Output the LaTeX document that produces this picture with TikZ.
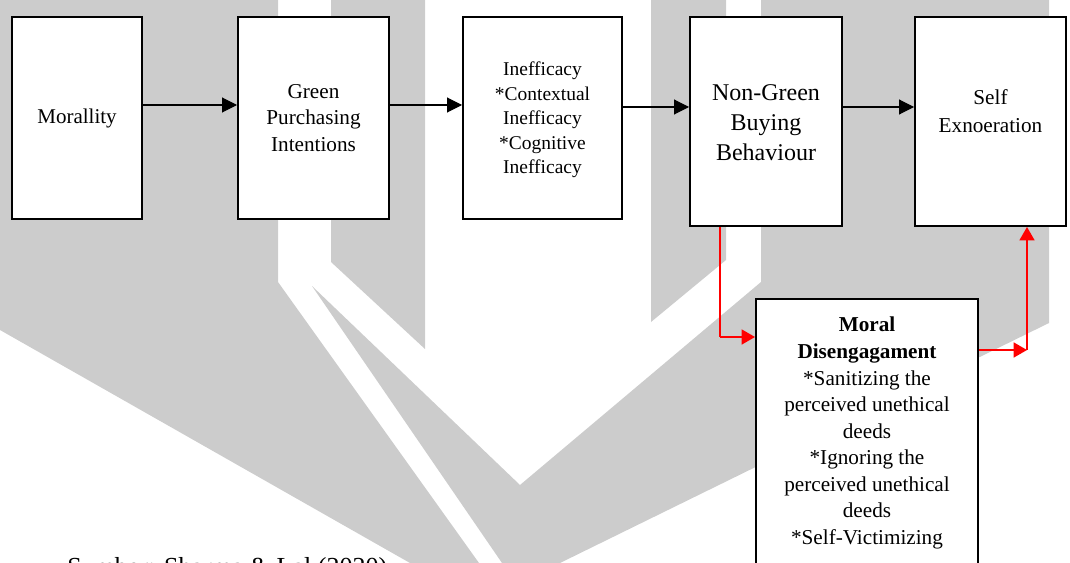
\documentclass[tikz,border=0pt]{standalone}
\usepackage{fontspec}
\setmainfont{Liberation Serif}
\usetikzlibrary{arrows.meta,calc}
\definecolor{wm}{HTML}{CCCCCC}
\definecolor{redline}{HTML}{FF0000}
\begin{document}
\begin{tikzpicture}[x=0.75pt,y=-0.75pt,
  box/.style={draw=black,line width=1.5pt,fill=white,inner sep=0pt},
  txt/.style={align=center,inner sep=0pt},
  blackarr/.style={draw=black,line width=0.8pt,-{Triangle[length=11.25pt,width=11.25pt]}},
  redarr/.style={draw=redline,line width=1.1pt,-{Triangle[length=10pt,width=11.25pt]}},
  redline/.style={draw=redline,line width=1.1pt}]
\useasboundingbox (0,0) rectangle (1070,563);
\clip (0,0) rectangle (1070,563);
% watermark
\fill[wm] (0,0) -- (278,0) -- (278,282) -- (479,563) -- (410,563) -- (0,330) -- cycle;
\fill[wm] (331,0) -- (425,0) -- (425,349) -- (331,262) -- cycle;
\fill[wm] (312,286) -- (520,485) -- (761,282) -- (761,0) -- (1049,0) -- (1049,323) -- (560,563) -- (502,563) -- cycle;
\fill[wm] (651,0) -- (726,0) -- (726,260) -- (651,322) -- cycle;
% boxes
\node[box,minimum width=97.5pt,minimum height=151.5pt] (b1) at (77,118) {};
\node[box,minimum width=113.25pt,minimum height=151.5pt] (b2) at (313.5,118) {};
\node[box,minimum width=119.25pt,minimum height=151.5pt] (b3) at (542.5,118) {};
\node[box,minimum width=114pt,minimum height=156.75pt] (b4) at (766,121.5) {};
\node[box,minimum width=113.25pt,minimum height=156.75pt] (b5) at (990.5,121.5) {};
\node[box,minimum width=166.5pt,minimum height=240pt] (b6) at (867,459) {};
% texts
\node[txt,font=\fontsize{15.75pt}{19.5pt}\selectfont] (t1) at (b1.center) {Morallity};
\node[txt,font=\fontsize{15.9pt}{19.8pt}\selectfont] (t2) at (b2.center) {Green\\Purchasing\\Intentions};
\node[txt,font=\fontsize{14.6pt}{18.4pt}\selectfont] (t3) at ($(b3.center)+(0,2)$) {Inefficacy\\{*}Contextual\\Inefficacy\\{*}Cognitive\\Inefficacy};
\node[txt,font=\fontsize{18pt}{22.5pt}\selectfont] (t4) at ($(b4.center)+(0,1)$) {Non-Green\\Buying\\Behaviour};
\node[txt,font=\fontsize{15.9pt}{21pt}\selectfont] (t5) at ($(b5.north)+(0,95)$) {Self\\Exnoeration};
\node[txt,font=\fontsize{15.9pt}{19.9pt}\selectfont] (t6) at ($(b6.north)+(0,135)$) {\textbf{Moral}\\\textbf{Disengagament}\\{*}Sanitizing the\\perceived unethical\\deeds\\{*}Ignoring the\\perceived unethical\\deeds\\{*}Self-Victimizing};
\node[anchor=base west,inner sep=0pt,font=\fontsize{19.5pt}{24pt}\selectfont] (src) at (67,575) {Sumber: Sharma \& Lal (2020)};
% black connectors
\draw[blackarr] ([yshift=9.75pt]b1.east) -- ([yshift=9.75pt]b2.west);
\draw[blackarr] ([yshift=9.75pt]b2.east) -- ([yshift=9.75pt]b3.west);
\draw[blackarr] ([yshift=8.25pt]b3.east) -- ([yshift=10.875pt]b4.west);
\draw[blackarr] ([yshift=10.875pt]b4.east) -- ([yshift=10.875pt]b5.west);
% red connectors
\coordinate (c1) at (720,337);
\coordinate (c2) at (1027,350);
\draw[redline] (b4.south -| c1) -- (c1);
\draw[redarr] (c1) -- (b6.west |- c1);
\draw[redarr] (b6.east |- c2) -- (c2);
\draw[redarr] (c2) -- (b5.south -| c2);
\end{tikzpicture}
\end{document}
